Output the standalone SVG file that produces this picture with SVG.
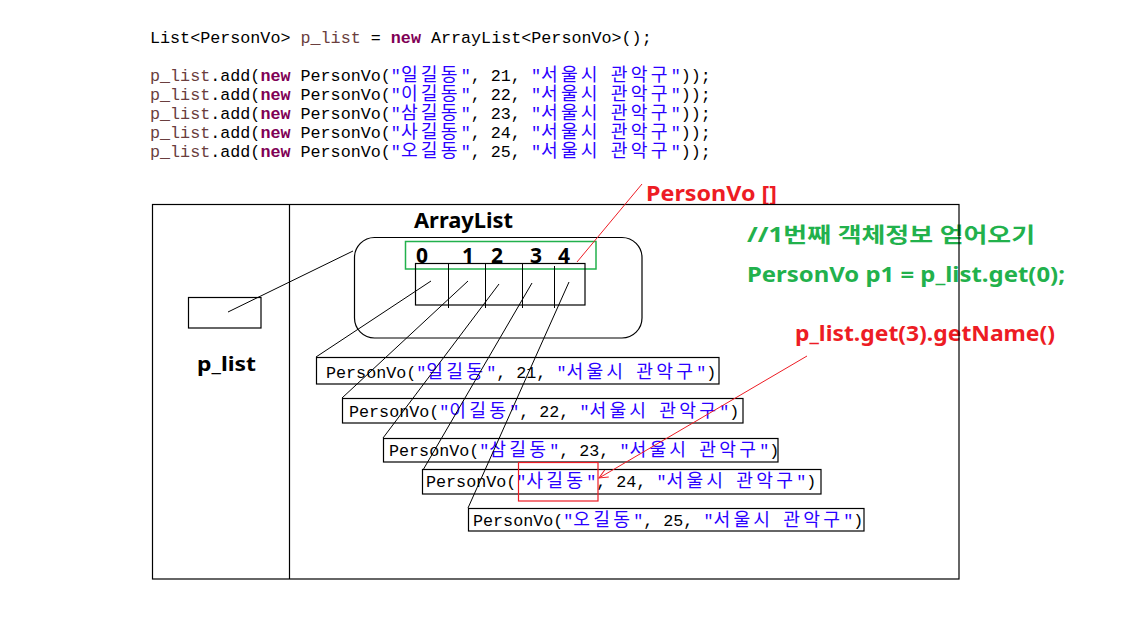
<svg xmlns="http://www.w3.org/2000/svg" width="1121" height="619" viewBox="0 0 1121 619">
<style>
.code{font-family:"Liberation Mono","Noto Sans CJK KR",monospace;font-size:16.73px;fill:#000;}
.ko{font-size:18.2px;letter-spacing:3.2px;}
.var{fill:#6a3e3e;}
.kw{fill:#7f0055;font-weight:bold;}
.str{fill:#2a00ff;}
.lbl{font-family:"Noto Sans","Noto Sans CJK KR",sans-serif;font-weight:bold;}
.ln{stroke:#000;stroke-width:1;fill:none;}
.box{fill:#fff;stroke:#000;stroke-width:1.2;}
.red{stroke:#ed1c24;stroke-width:1;fill:none;}
</style>
<defs>
<marker id="arr" markerWidth="10" markerHeight="10" refX="9" refY="5" orient="auto" markerUnits="userSpaceOnUse">
<path d="M0,1 L9,5 L0,9" fill="none" stroke="#ed1c24" stroke-width="1"/>
</marker>
</defs>
<rect width="1121" height="619" fill="#fff"/>

<g id="code">
<text class="code" x="150" y="43">List&lt;PersonVo&gt; <tspan class="var">p_list</tspan> = <tspan class="kw">new</tspan> ArrayList&lt;PersonVo&gt;();</text>
<text class="code" x="150" y="81"><tspan class="var">p_list</tspan>.add(<tspan class="kw">new</tspan> PersonVo(<tspan class="str">"<tspan class="ko">일길동</tspan>"</tspan>, 21, <tspan class="str">"<tspan class="ko">서울시</tspan> <tspan class="ko">관악구</tspan>"</tspan>));</text>
<text class="code" x="150" y="100"><tspan class="var">p_list</tspan>.add(<tspan class="kw">new</tspan> PersonVo(<tspan class="str">"<tspan class="ko">이길동</tspan>"</tspan>, 22, <tspan class="str">"<tspan class="ko">서울시</tspan> <tspan class="ko">관악구</tspan>"</tspan>));</text>
<text class="code" x="150" y="119"><tspan class="var">p_list</tspan>.add(<tspan class="kw">new</tspan> PersonVo(<tspan class="str">"<tspan class="ko">삼길동</tspan>"</tspan>, 23, <tspan class="str">"<tspan class="ko">서울시</tspan> <tspan class="ko">관악구</tspan>"</tspan>));</text>
<text class="code" x="150" y="138"><tspan class="var">p_list</tspan>.add(<tspan class="kw">new</tspan> PersonVo(<tspan class="str">"<tspan class="ko">사길동</tspan>"</tspan>, 24, <tspan class="str">"<tspan class="ko">서울시</tspan> <tspan class="ko">관악구</tspan>"</tspan>));</text>
<text class="code" x="150" y="157"><tspan class="var">p_list</tspan>.add(<tspan class="kw">new</tspan> PersonVo(<tspan class="str">"<tspan class="ko">오길동</tspan>"</tspan>, 25, <tspan class="str">"<tspan class="ko">서울시</tspan> <tspan class="ko">관악구</tspan>"</tspan>));</text>
</g>

<g id="labels">
<text class="lbl" x="646" y="201" font-size="21" fill="#ed1c24" textLength="131" lengthAdjust="spacingAndGlyphs">PersonVo []</text>
<text class="lbl" x="747" y="242" font-size="21" fill="#22b14c" textLength="288" lengthAdjust="spacingAndGlyphs">//1번째 객체정보 얻어오기</text>
<text class="lbl" x="747" y="282" font-size="21" fill="#22b14c" textLength="318" lengthAdjust="spacingAndGlyphs">PersonVo p1 = p_list.get(0);</text>
<text class="lbl" x="795" y="341" font-size="21" fill="#ed1c24" textLength="260" lengthAdjust="spacingAndGlyphs">p_list.get(3).getName()</text>
</g>

<g id="frame">
<rect x="152.5" y="204.5" width="806.5" height="374.5" fill="none" stroke="#000" stroke-width="1.2"/>
<line x1="289.5" y1="204.5" x2="289.5" y2="579" stroke="#000" stroke-width="1.2"/>
</g>

<g id="p_list">
<rect x="188.5" y="297.5" width="72.5" height="30.5" fill="none" stroke="#000" stroke-width="1.2"/>
<text class="lbl" x="197" y="371" font-size="20" fill="#000" textLength="59" lengthAdjust="spacingAndGlyphs">p_list</text>
</g>

<g id="arraylist">
<text class="lbl" x="414" y="228" font-size="21" fill="#000" textLength="99" lengthAdjust="spacingAndGlyphs">ArrayList</text>
<rect x="354.5" y="237.5" width="287.5" height="100.5" rx="20" ry="20" fill="none" stroke="#000" stroke-width="1.2"/>
<rect x="405.5" y="241.5" width="190.5" height="27.5" fill="none" stroke="#22b14c" stroke-width="1.5"/>
<g class="lbl" font-size="21" fill="#000">
<text x="416" y="263">0</text>
<text x="462" y="263">1</text>
<text x="491" y="263">2</text>
<text x="530" y="263">3</text>
<text x="558" y="263">4</text>
</g>
<rect x="415.5" y="263.5" width="169.5" height="41.5" fill="none" stroke="#000" stroke-width="1.2"/>
<line class="ln" x1="448.5" y1="263" x2="448.5" y2="308" stroke-width="1.2"/>
<line class="ln" x1="485.5" y1="263" x2="485.5" y2="308" stroke-width="1.2"/>
<line class="ln" x1="522.5" y1="263" x2="522.5" y2="308" stroke-width="1.2"/>
<line class="ln" x1="554.5" y1="266" x2="554.5" y2="308" stroke-width="1.2"/>
</g>

<g id="vo1">
<rect class="box" x="316.5" y="357.5" width="402.5" height="26.5"/>
<text class="code" x="326" y="378">PersonVo(<tspan class="str">"<tspan class="ko">일길동</tspan>"</tspan>, 21, <tspan class="str">"<tspan class="ko">서울시</tspan> <tspan class="ko">관악구</tspan>"</tspan>)</text>
</g>
<g id="vo2">
<rect class="box" x="342.5" y="398.5" width="400.5" height="24.5"/>
<text class="code" x="349" y="417">PersonVo(<tspan class="str">"<tspan class="ko">이길동</tspan>"</tspan>, 22, <tspan class="str">"<tspan class="ko">서울시</tspan> <tspan class="ko">관악구</tspan>"</tspan>)</text>
</g>
<g id="vo3">
<rect class="box" x="383.5" y="438.5" width="394.5" height="23.5"/>
<text class="code" x="389" y="456">PersonVo(<tspan class="str">"<tspan class="ko">삼길동</tspan>"</tspan>, 23, <tspan class="str">"<tspan class="ko">서울시</tspan> <tspan class="ko">관악구</tspan>"</tspan>)</text>
</g>
<g id="vo4">
<rect class="box" x="422.5" y="469.5" width="398.5" height="24.5"/>
<text class="code" x="426" y="487">PersonVo(<tspan class="str">"<tspan class="ko">사길동</tspan>"</tspan>, 24, <tspan class="str">"<tspan class="ko">서울시</tspan> <tspan class="ko">관악구</tspan>"</tspan>)</text>
</g>
<g id="vo5">
<rect class="box" x="468.5" y="508.5" width="395.5" height="22.5"/>
<text class="code" x="473" y="526">PersonVo(<tspan class="str">"<tspan class="ko">오길동</tspan>"</tspan>, 25, <tspan class="str">"<tspan class="ko">서울시</tspan> <tspan class="ko">관악구</tspan>"</tspan>)</text>
</g>

<g id="connectors">
<line class="ln" x1="228" y1="312" x2="353" y2="251"/>
<line class="ln" x1="431" y1="281" x2="316" y2="357"/>
<line class="ln" x1="468" y1="281" x2="342" y2="398"/>
<line class="ln" x1="499" y1="284" x2="383" y2="438"/>
<line class="ln" x1="532" y1="283" x2="423" y2="470"/>
<line class="ln" x1="569" y1="282" x2="468" y2="508"/>
<line class="red" x1="642" y1="184" x2="577" y2="262"/>
<line class="red" x1="807" y1="356" x2="599" y2="478" marker-end="url(#arr)"/>
<rect x="518.5" y="462.5" width="79.5" height="38.5" fill="none" stroke="#ed1c24" stroke-width="1.2"/>
</g>
</svg>
